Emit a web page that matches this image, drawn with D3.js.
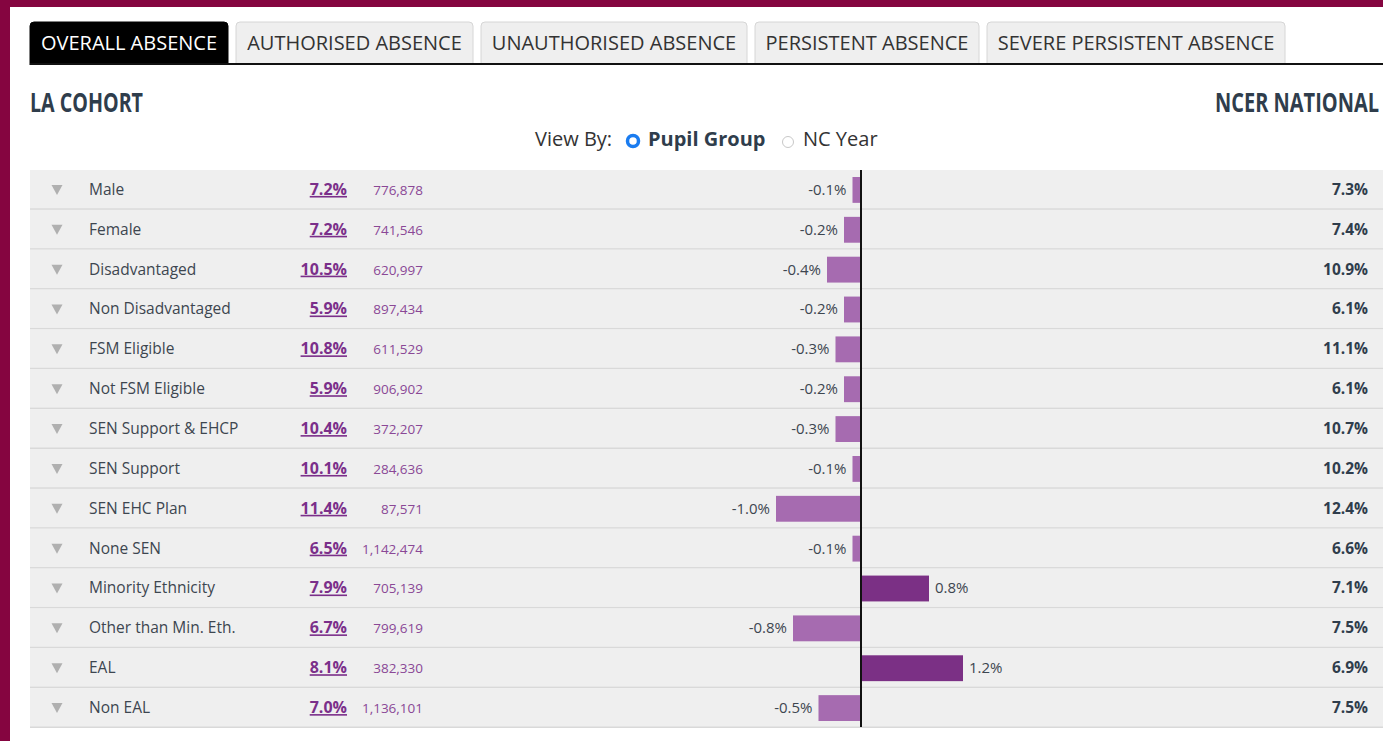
<!DOCTYPE html>
<html>
<head>
<meta charset="utf-8">
<script src="https://cdn.jsdelivr.net/npm/d3@7"></script>
<style>
  html, body { margin: 0; padding: 0; background: #fff; }
  svg { display: block; font-family: "Open Sans", "Noto Sans", sans-serif; }
</style>
</head>
<body>
<div id="chart"></div>
<script>
const tabs = ["OVERALL ABSENCE", "AUTHORISED ABSENCE", "UNAUTHORISED ABSENCE", "PERSISTENT ABSENCE", "SEVERE PERSISTENT ABSENCE"];
const groups = ["Male", "Female", "Disadvantaged", "Non Disadvantaged", "FSM Eligible", "Not FSM Eligible",
  "SEN Support & EHCP", "SEN Support", "SEN EHC Plan", "None SEN", "Minority Ethnicity",
  "Other than Min. Eth.", "EAL", "Non EAL"];
const laRates = [7.2, 7.2, 10.5, 5.9, 10.8, 5.9, 10.4, 10.1, 11.4, 6.5, 7.9, 6.7, 8.1, 7.0];
const cohortSizes = [776878, 741546, 620997, 897434, 611529, 906902, 372207, 284636, 87571, 1142474, 705139, 799619, 382330, 1136101];
const diffs = [-0.1, -0.2, -0.4, -0.2, -0.3, -0.2, -0.3, -0.1, -1.0, -0.1, 0.8, -0.8, 1.2, -0.5];
const nationalRates = [7.3, 7.4, 10.9, 6.1, 11.1, 6.1, 10.7, 10.2, 12.4, 6.6, 7.1, 7.5, 6.9, 7.5];

const W = 1383, H = 741;
const maroon = "#850540";
const svg = d3.select("#chart").append("svg").attr("width", W).attr("height", H);

// frame
svg.append("rect").attr("width", W).attr("height", H).attr("fill", "#fff");
svg.append("rect").attr("width", W).attr("height", 7).attr("fill", maroon);
svg.append("rect").attr("width", 10).attr("height", H).attr("fill", maroon);

// tabs
const tabX = [30, 236, 481, 755, 987];
const tabW = [198, 237, 266, 224, 298];
const tabG = svg.append("g");
tabs.forEach((t, i) => {
  const active = i === 0;
  const x = tabX[i], w = tabW[i], y = 22, h = 43, r = 4;
  tabG.append("path")
    .attr("d", `M${x},${y + h} V${y + r} Q${x},${y} ${x + r},${y} H${x + w - r} Q${x + w},${y} ${x + w},${y + r} V${y + h}`)
    .attr("fill", active ? "#000" : "#efefef")
    .attr("stroke", active ? "#000" : "#d6d6d6")
    .attr("stroke-width", 1);
  tabG.append("text")
    .attr("x", x + w / 2).attr("y", 50)
    .attr("text-anchor", "middle")
    .attr("font-size", 20)
    .attr("fill", active ? "#fff" : "#333")
    .text(t);
});
svg.append("rect").attr("x", 30).attr("y", 63).attr("width", W - 30).attr("height", 2).attr("fill", "#111");

// headings
svg.append("text").attr("x", 30).attr("y", 112)
  .attr("font-size", 27).attr("font-weight", 700).attr("fill", "#2f3d4c")
  .attr("textLength", 113).attr("lengthAdjust", "spacingAndGlyphs")
  .text("LA COHORT");
svg.append("text").attr("x", 1379).attr("y", 112).attr("text-anchor", "end")
  .attr("font-size", 27).attr("font-weight", 700).attr("fill", "#2f3d4c")
  .attr("textLength", 164).attr("lengthAdjust", "spacingAndGlyphs")
  .text("NCER NATIONAL");

// view by
const vb = svg.append("g").attr("font-size", 20).attr("fill", "#333");
vb.append("text").attr("x", 535).attr("y", 146).text("View By:");
vb.append("circle").attr("cx", 633).attr("cy", 141).attr("r", 5.5).attr("fill", "#fff").attr("stroke", "#1a7cf0").attr("stroke-width", 3.5);
vb.append("text").attr("x", 648).attr("y", 146).attr("font-weight", 700).attr("fill", "#2f3d4c").text("Pupil Group");
vb.append("circle").attr("cx", 788).attr("cy", 142).attr("r", 5.5).attr("fill", "#fff").attr("stroke", "#c8c8c8").attr("stroke-width", 1);
vb.append("text").attr("x", 803).attr("y", 146).text("NC Year");

// rows
const y = d3.scaleBand().domain(groups).range([170, 728]).paddingInner(0);
const x = d3.scaleLinear().domain([-1, 1]).range([776, 946]);
const fmtPct = d => d.toFixed(1) + "%";
const fmtN = d3.format(",");

const rows = svg.append("g").selectAll("g").data(groups).join("g")
  .attr("transform", d => `translate(0,${y(d)})`);
const bh = y.bandwidth();

rows.append("rect").attr("x", 30).attr("width", W - 30).attr("height", bh).attr("fill", "#efefef");
rows.append("rect").attr("x", 30).attr("y", bh - 1.5).attr("width", W - 30).attr("height", 1.5).attr("fill", "#d9d9d9");

rows.append("path")
  .attr("d", `M51.5,${bh / 2 - 5} h11 l-5.5,10 z`)
  .attr("fill", "#b0b0b0");

rows.append("text").attr("x", 89).attr("y", bh / 2 + 5)
  .attr("font-size", 15.5).attr("fill", "#3d4650").text(d => d);

rows.append("text").attr("x", 347).attr("y", bh / 2 + 5).attr("text-anchor", "end")
  .attr("font-size", 16).attr("font-weight", 700).attr("fill", "#7b2f8a")
  .attr("text-decoration", "underline")
  .text((d, i) => fmtPct(laRates[i]));

rows.append("text").attr("x", 423).attr("y", bh / 2 + 5).attr("text-anchor", "end")
  .attr("font-size", 13.5).attr("fill", "#8a4896")
  .text((d, i) => fmtN(cohortSizes[i]));

// difference bars
rows.append("rect")
  .attr("x", (d, i) => Math.min(x(0), x(diffs[i])))
  .attr("y", 7)
  .attr("height", bh - 14)
  .attr("width", (d, i) => Math.abs(x(diffs[i]) - x(0)))
  .attr("fill", (d, i) => diffs[i] < 0 ? "#a66bb0" : "#7b3085");

rows.append("text")
  .attr("x", (d, i) => diffs[i] < 0 ? x(diffs[i]) - 6 : x(diffs[i]) + 6)
  .attr("y", bh / 2 + 5)
  .attr("text-anchor", (d, i) => diffs[i] < 0 ? "end" : "start")
  .attr("font-size", 15).attr("fill", "#3d4650")
  .text((d, i) => fmtPct(diffs[i]));

rows.append("text").attr("x", 1368).attr("y", bh / 2 + 5).attr("text-anchor", "end")
  .attr("font-size", 15.5).attr("font-weight", 700).attr("fill", "#2f3d4c")
  .text((d, i) => fmtPct(nationalRates[i]));

// zero line
svg.append("line").attr("x1", x(0)).attr("x2", x(0)).attr("y1", 170).attr("y2", 727)
  .attr("stroke", "#111").attr("stroke-width", 2);
</script>
</body>
</html>
